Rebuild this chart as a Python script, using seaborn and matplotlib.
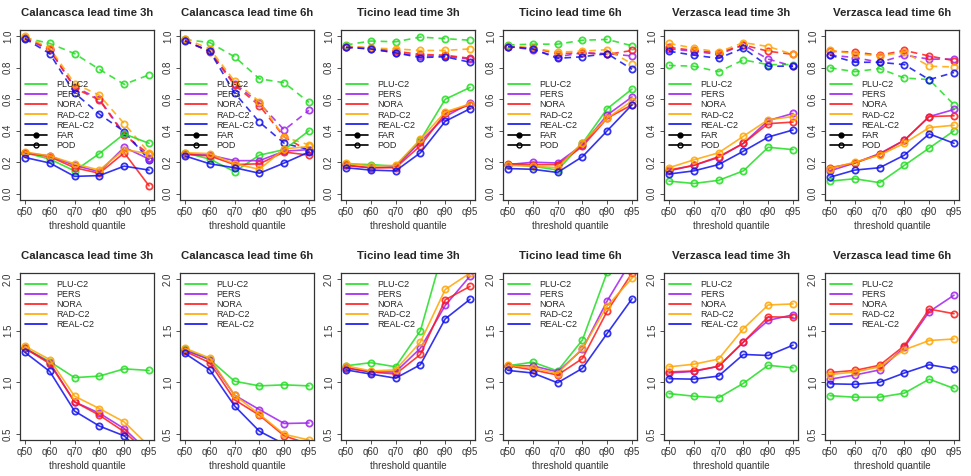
import numpy as np
import pandas as pd
import seaborn as sns
import matplotlib.pyplot as plt
from matplotlib.lines import Line2D

# x axis categories
quantiles = ['q50', 'q60', 'q70', 'q80', 'q90', 'q95']
models = ['PLU-C2', 'PERS', 'NORA', 'RAD-C2', 'REAL-C2']
colors = {'PLU-C2': '#22dd22', 'PERS': '#a020f0', 'NORA': '#ff1a1a',
          'RAD-C2': '#ffa500', 'REAL-C2': '#1010ee'}

# ---------------- top row: upper (dashed) and lower (solid) scores ----------------
cal3_dash = {'PLU-C2': [0.99, 0.955, 0.89, 0.79, 0.695, 0.755],
             'PERS': [0.99, 0.91, 0.68, 0.60, 0.38, 0.23],
             'NORA': [0.99, 0.92, 0.67, 0.595, 0.375, 0.25],
             'RAD-C2': [1.0, 0.925, 0.70, 0.625, 0.445, 0.26],
             'REAL-C2': [0.985, 0.89, 0.64, 0.505, 0.395, 0.215]}
cal3_solid = {'PLU-C2': [0.26, 0.22, 0.145, 0.255, 0.38, 0.32],
              'PERS': [0.26, 0.24, 0.18, 0.14, 0.295, 0.22],
              'NORA': [0.26, 0.235, 0.165, 0.13, 0.26, 0.05],
              'RAD-C2': [0.265, 0.24, 0.19, 0.15, 0.28, 0.255],
              'REAL-C2': [0.23, 0.195, 0.11, 0.115, 0.175, 0.15]}

cal6_dash = {'PLU-C2': [0.98, 0.96, 0.87, 0.73, 0.705, 0.58],
             'PERS': [0.975, 0.905, 0.70, 0.575, 0.405, 0.53],
             'NORA': [0.975, 0.90, 0.69, 0.56, 0.36, 0.27],
             'RAD-C2': [0.985, 0.92, 0.715, 0.585, 0.36, 0.31],
             'REAL-C2': [0.97, 0.905, 0.64, 0.455, 0.32, 0.28]}
cal6_solid = {'PLU-C2': [0.26, 0.22, 0.14, 0.245, 0.28, 0.40],
              'PERS': [0.255, 0.245, 0.21, 0.21, 0.27, 0.28],
              'NORA': [0.25, 0.24, 0.185, 0.19, 0.265, 0.245],
              'RAD-C2': [0.26, 0.255, 0.19, 0.155, 0.285, 0.30],
              'REAL-C2': [0.24, 0.19, 0.165, 0.13, 0.195, 0.265]}

tic3_dash = {'PLU-C2': [0.945, 0.97, 0.965, 0.995, 0.985, 0.975],
             'PERS': [0.93, 0.92, 0.895, 0.875, 0.875, 0.855],
             'NORA': [0.935, 0.925, 0.905, 0.885, 0.88, 0.86],
             'RAD-C2': [0.94, 0.925, 0.92, 0.91, 0.91, 0.92],
             'REAL-C2': [0.93, 0.92, 0.895, 0.865, 0.87, 0.835]}
tic3_solid = {'PLU-C2': [0.19, 0.185, 0.175, 0.34, 0.60, 0.675],
              'PERS': [0.18, 0.165, 0.17, 0.33, 0.49, 0.575],
              'NORA': [0.18, 0.165, 0.165, 0.305, 0.51, 0.565],
              'RAD-C2': [0.195, 0.175, 0.18, 0.345, 0.52, 0.57],
              'REAL-C2': [0.165, 0.15, 0.145, 0.26, 0.46, 0.54]}

tic6_dash = {'PLU-C2': [0.945, 0.95, 0.95, 0.975, 0.98, 0.94],
             'PERS': [0.935, 0.915, 0.87, 0.895, 0.89, 0.875],
             'NORA': [0.935, 0.925, 0.89, 0.895, 0.885, 0.91],
             'RAD-C2': [0.94, 0.925, 0.90, 0.905, 0.915, 0.825],
             'REAL-C2': [0.935, 0.92, 0.86, 0.87, 0.89, 0.79]}
tic6_solid = {'PLU-C2': [0.185, 0.175, 0.15, 0.32, 0.54, 0.665],
              'PERS': [0.185, 0.20, 0.195, 0.31, 0.50, 0.615],
              'NORA': [0.19, 0.185, 0.185, 0.30, 0.48, 0.565],
              'RAD-C2': [0.18, 0.175, 0.165, 0.325, 0.48, 0.59],
              'REAL-C2': [0.16, 0.155, 0.135, 0.235, 0.40, 0.565]}

ver3_dash = {'PLU-C2': [0.815, 0.81, 0.775, 0.85, 0.82, 0.82],
             'PERS': [0.92, 0.905, 0.885, 0.945, 0.855, 0.81],
             'NORA': [0.93, 0.91, 0.895, 0.945, 0.905, 0.885],
             'RAD-C2': [0.955, 0.925, 0.90, 0.96, 0.935, 0.885],
             'REAL-C2': [0.905, 0.88, 0.86, 0.925, 0.81, 0.81]}
ver3_solid = {'PLU-C2': [0.08, 0.065, 0.085, 0.145, 0.295, 0.28],
              'PERS': [0.145, 0.18, 0.23, 0.32, 0.465, 0.51],
              'NORA': [0.15, 0.18, 0.235, 0.32, 0.445, 0.455],
              'RAD-C2': [0.165, 0.215, 0.26, 0.365, 0.47, 0.49],
              'REAL-C2': [0.125, 0.145, 0.185, 0.27, 0.36, 0.405]}

ver6_dash = {'PLU-C2': [0.80, 0.775, 0.795, 0.735, 0.725, 0.565],
             'PERS': [0.88, 0.865, 0.835, 0.88, 0.855, 0.855],
             'NORA': [0.905, 0.90, 0.88, 0.91, 0.875, 0.845],
             'RAD-C2': [0.91, 0.89, 0.875, 0.90, 0.81, 0.805],
             'REAL-C2': [0.88, 0.835, 0.835, 0.82, 0.725, 0.77]}
ver6_solid = {'PLU-C2': [0.08, 0.095, 0.07, 0.18, 0.29, 0.40],
              'PERS': [0.145, 0.195, 0.255, 0.34, 0.49, 0.535],
              'NORA': [0.165, 0.195, 0.25, 0.34, 0.49, 0.495],
              'RAD-C2': [0.16, 0.20, 0.245, 0.32, 0.42, 0.435],
              'REAL-C2': [0.105, 0.15, 0.165, 0.245, 0.38, 0.32]}

# ---------------- bottom row ----------------
cal3_bias = {'PLU-C2': [1.33, 1.20, 1.045, 1.06, 1.13, 1.115],
             'PERS': [1.33, 1.19, 0.81, 0.70, 0.55, 0.32],
             'NORA': [1.33, 1.18, 0.81, 0.68, 0.52, 0.30],
             'RAD-C2': [1.35, 1.22, 0.865, 0.745, 0.615, 0.38],
             'REAL-C2': [1.29, 1.105, 0.72, 0.575, 0.48, 0.25]}
cal6_bias = {'PLU-C2': [1.32, 1.22, 1.01, 0.965, 0.975, 0.965],
             'PERS': [1.31, 1.22, 0.875, 0.735, 0.60, 0.605],
             'NORA': [1.30, 1.19, 0.83, 0.68, 0.48, 0.40],
             'RAD-C2': [1.33, 1.235, 0.875, 0.69, 0.495, 0.44],
             'REAL-C2': [1.28, 1.12, 0.77, 0.525, 0.40, 0.30]}
tic3_bias = {'PLU-C2': [1.16, 1.19, 1.15, 1.50, 2.35, 2.6],
             'PERS': [1.14, 1.10, 1.10, 1.33, 1.745, 2.03],
             'NORA': [1.14, 1.10, 1.08, 1.27, 1.80, 1.93],
             'RAD-C2': [1.16, 1.11, 1.12, 1.39, 1.90, 2.06],
             'REAL-C2': [1.12, 1.08, 1.04, 1.17, 1.615, 1.805]}
tic6_bias = {'PLU-C2': [1.16, 1.195, 1.11, 1.41, 2.07, 2.5],
             'PERS': [1.16, 1.16, 1.10, 1.32, 1.79, 2.19],
             'NORA': [1.16, 1.12, 1.07, 1.23, 1.69, 2.06],
             'RAD-C2': [1.165, 1.14, 1.085, 1.33, 1.74, 2.01],
             'REAL-C2': [1.115, 1.09, 0.995, 1.135, 1.475, 1.81]}
ver3_bias = {'PLU-C2': [0.89, 0.865, 0.85, 0.99, 1.165, 1.14],
             'PERS': [1.09, 1.105, 1.155, 1.39, 1.60, 1.655],
             'NORA': [1.10, 1.11, 1.155, 1.39, 1.635, 1.63],
             'RAD-C2': [1.15, 1.175, 1.225, 1.52, 1.75, 1.76],
             'REAL-C2': [1.035, 1.03, 1.06, 1.27, 1.26, 1.36]}
ver6_bias = {'PLU-C2': [0.87, 0.855, 0.855, 0.895, 1.03, 0.94],
             'PERS': [1.03, 1.07, 1.12, 1.34, 1.685, 1.845],
             'NORA': [1.095, 1.115, 1.165, 1.355, 1.71, 1.665],
             'RAD-C2': [1.075, 1.10, 1.15, 1.315, 1.405, 1.42],
             'REAL-C2': [0.985, 0.98, 1.00, 1.09, 1.17, 1.13]}

titles = ['Calancasca lead time 3h', 'Calancasca lead time 6h',
          'Ticino lead time 3h', 'Ticino lead time 6h',
          'Verzasca lead time 3h', 'Verzasca lead time 6h']
top_panels = [(cal3_dash, cal3_solid), (cal6_dash, cal6_solid),
              (tic3_dash, tic3_solid), (tic6_dash, tic6_solid),
              (ver3_dash, ver3_solid), (ver6_dash, ver6_solid)]
bottom_panels = [cal3_bias, cal6_bias, tic3_bias, tic6_bias, ver3_bias, ver6_bias]

sns.set_style('ticks')
plt.rcParams['font.family'] = ['Liberation Sans', 'DejaVu Sans']

fig = plt.figure(figsize=(9.71, 4.76), dpi=100)
W, H = 971, 476
lefts = [20, 180, 341, 503, 664, 825]
axw = 134

xpos = np.arange(len(quantiles))


def draw(ax, series, dashes):
    rows = []
    for m in models:
        for i, v in enumerate(series[m]):
            rows.append({'x': xpos[i], 'y': v, 'model': m})
    df = pd.DataFrame(rows)
    sns.lineplot(data=df, x='x', y='y', hue='model', hue_order=models,
                 palette=colors, ax=ax, linewidth=1.2, alpha=0.85,
                 linestyle=dashes, marker='o', markersize=4.5,
                 markerfacecolor='none', markeredgewidth=1.3,
                 legend=False, sort=False, clip_on=True)
    for line in ax.get_lines()[-len(models):]:
        line.set_markeredgecolor(line.get_color())
        if dashes == '--':
            line.set_dashes((4, 3))


def style(ax, title, ylim, yticks):
    ax.set_xlim(-0.2, 5.2)
    ax.set_ylim(*ylim)
    ax.set_xticks(xpos)
    ax.set_xticklabels(quantiles)
    ax.set_yticks(yticks)
    ax.set_yticklabels([f'{t:.1f}' for t in yticks], rotation=90, va='center')
    ax.tick_params(labelsize=7, length=3, width=0.6, colors='#333333', pad=2)
    ax.set_xlabel('threshold quantile', fontsize=7, color='#333333', labelpad=3)
    ax.set_ylabel('')
    ax.set_title(title, fontsize=8.2, fontweight='bold', pad=10)
    for s in ax.spines.values():
        s.set_linewidth(0.9)
        s.set_color('#333333')


for k in range(6):
    # top row
    ax = fig.add_axes([lefts[k] / W, (H - 200) / H, axw / W, 170 / H])
    dash, solid = top_panels[k]
    draw(ax, dash, '--')
    draw(ax, solid, '-')
    style(ax, titles[k], (-0.04, 1.04), [0.0, 0.2, 0.4, 0.6, 0.8, 1.0])
    handles = [Line2D([], [], color=colors[m], lw=1.2) for m in models]
    handles.append(Line2D([], [], color='black', lw=1.2, marker='o', markersize=3.5))
    handles.append(Line2D([], [], color='black', lw=1.2, marker='o', markersize=3.5,
                          markerfacecolor='none'))
    ax.legend(handles, models + ['FAR', 'POD'], loc='center left',
              bbox_to_anchor=(0.0, 0.5), frameon=False, fontsize=6.5,
              handlelength=2.4, labelspacing=0.12, borderaxespad=0.2,
              handletextpad=1.0)

    # bottom row
    ax = fig.add_axes([lefts[k] / W, (H - 440) / H, axw / W, 167 / H])
    draw(ax, bottom_panels[k], '-')
    style(ax, titles[k], (0.44, 2.06), [0.5, 1.0, 1.5, 2.0])
    handles = [Line2D([], [], color=colors[m], lw=1.2) for m in models]
    ax.legend(handles, models, loc='upper left', frameon=False, fontsize=6.5,
              handlelength=2.4, labelspacing=0.12, borderaxespad=0.2,
              handletextpad=1.0, bbox_to_anchor=(0.0, 0.99))

fig.savefig('out.png', dpi=100)
